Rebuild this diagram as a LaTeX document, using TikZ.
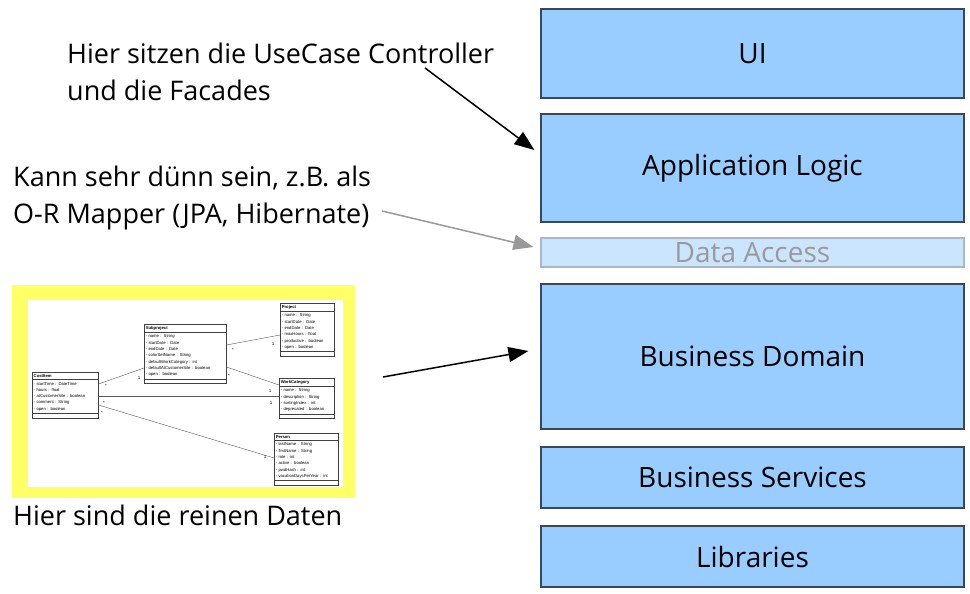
\documentclass[tikz,border=0pt]{standalone}
\usepackage{fontspec}
\setmainfont{Open Sans}
\newfontfamily\umlfont{Liberation Sans}
\usetikzlibrary{arrows.meta,shapes.multipart,calc}
\definecolor{layerfill}{HTML}{99CCFF}
\definecolor{layerdraw}{HTML}{3A4856}
\definecolor{dafill}{HTML}{CCE5FF}
\definecolor{dadraw}{HTML}{A8B8C8}
\definecolor{datext}{HTML}{9A9A9A}
\definecolor{hl}{HTML}{FFFF66}
\definecolor{grayarrow}{HTML}{999999}
\begin{document}
\begin{tikzpicture}[x=1pt,y=-1pt,
  layer/.style={draw=layerdraw, fill=layerfill, line width=1.2pt, minimum width=423pt,
    inner sep=0pt, font=\fontsize{28}{34}\selectfont},
  note/.style={inner sep=0pt, align=left, font=\fontsize{27}{37}\selectfont, anchor=base west},
  umlclass/.style={rectangle split, rectangle split parts=3, draw=black!75, line width=0.5pt,
    fill=white, anchor=north west, inner xsep=1.5pt, inner ysep=2pt,
    font=\umlfont\fontsize{4.2}{6.3}\selectfont, rectangle split empty part height=1pt},
  mult/.style={inner sep=0pt, font=\umlfont\fontsize{4.5}{5}\selectfont},
  assoc/.style={draw=black!65, line width=0.4pt},
  bigarrow/.style={line width=1.5pt, -{Triangle[length=20pt,width=15pt]}}
]
\useasboundingbox (0,0) rectangle (970,594);

% layers
\node[layer, minimum height=89pt]  (ui)  at (752.5,53.5)  {UI};
\node[layer, minimum height=108pt] (app) at (752.5,168)   {Application Logic};
\node[layer, minimum height=29pt, draw=dadraw, fill=dafill, text=datext] (da) at (752.5,252.5) {Data Access};
\node[layer, minimum height=145pt] (bd)  at (752.5,356.5) {Business Domain};
\node[layer, minimum height=61pt]  (bs)  at (752.5,477.5) {Business Services};
\node[layer, minimum height=61pt]  (lib) at (752.5,556.5) {Libraries};

% notes (base anchor = baseline of the last line)
\node[note] (n1) at (67,100) {Hier sitzen die UseCase Controller\\und die Facades};
\node[note] (n2) at (13,223) {Kann sehr dünn sein, z.B. als\\O-R Mapper (JPA, Hibernate)};
\node[note] (n3) at (13,525) {Hier sind die reinen Daten};

% highlighted class diagram
\fill[hl] (12,285) rectangle (355,498);
\fill[white] (28,300) rectangle (343,487);

\node[umlclass, text width=63pt] (ci) at (32,372)
  {\centering\textbf{CostItem}\nodepart{two}\raggedright
   - startTime : DateTime\\- hours : float\\- atCustomerSite : boolean\\- comment : String\\- open : boolean\nodepart{three}};
\node[umlclass, text width=79pt] (sp) at (144,324)
  {\centering\textbf{Subproject}\nodepart{two}\raggedright
   - name : String\\- startDate : Date\\- endDate : Date\\- colorSetName : String\\- defaultWorkCategory : int\\- defaultAtCustomerSite : boolean\\- open : boolean\nodepart{three}};
\node[umlclass, text width=51pt] (pj) at (280,303)
  {\centering\textbf{Project}\nodepart{two}\raggedright
   - name : String\\- startDate : Date\\- endDate : Date\\- maxHours : float\\- productive : boolean\\- open : boolean\nodepart{three}};
\node[umlclass, text width=52pt] (wc) at (279,378)
  {\centering\textbf{WorkCategory}\nodepart{two}\raggedright
   - name : String\\- description : String\\- sortingIndex : int\\- deprecated : boolean\nodepart{three}};
\node[umlclass, text width=61pt] (ps) at (274,433)
  {\centering\textbf{Person}\nodepart{two}\raggedright
   - lastName : String\\- firstName : String\\- role : int\\- active : boolean\\- pwdHash : int\\- vacationDaysPerYear : int\nodepart{three}};

% associations
\draw[assoc] ([yshift=-12pt]ci.north east) -- ([yshift=-44pt]sp.north west);
\draw[assoc] ([yshift=-24pt]ci.north east) -- ([yshift=-18pt]wc.north west);
\draw[assoc] ([yshift=-33pt]ci.north east) -- ([yshift=-25pt]ps.north west);
\draw[assoc] ([yshift=-21pt]sp.north east) -- ([yshift=-32pt]pj.north west);
\draw[assoc] ([yshift=-43pt]sp.north east) -- ([yshift=-7pt]wc.north west);

% multiplicities
\node[mult] (m1) at (106,386) {*};
\node[mult] (m2) at (139,378) {1};
\node[mult] (m3) at (104,403) {*};
\node[mult] (m4) at (102,413) {*};
\node[mult] (m5) at (233,350) {*};
\node[mult] (m6) at (273,344) {1};
\node[mult] (m7) at (229,376) {*};
\node[mult] (m8) at (270,391) {1};
\node[mult] (m9) at (271,403) {1};
\node[mult] (m10) at (265,457) {1};

% arrows
\coordinate (s1) at (425,68);
\coordinate (s2) at (382,211);
\coordinate (s3) at (383,377);
\draw[bigarrow] (s1) -- ([xshift=-6pt,yshift=18pt]app.west);
\draw[bigarrow, draw=grayarrow, fill=grayarrow] (s2) -- ([xshift=-7pt,yshift=5.5pt]da.west);
\draw[bigarrow] (s3) -- ([xshift=-12pt,yshift=5.5pt]bd.west);
\end{tikzpicture}
\end{document}
